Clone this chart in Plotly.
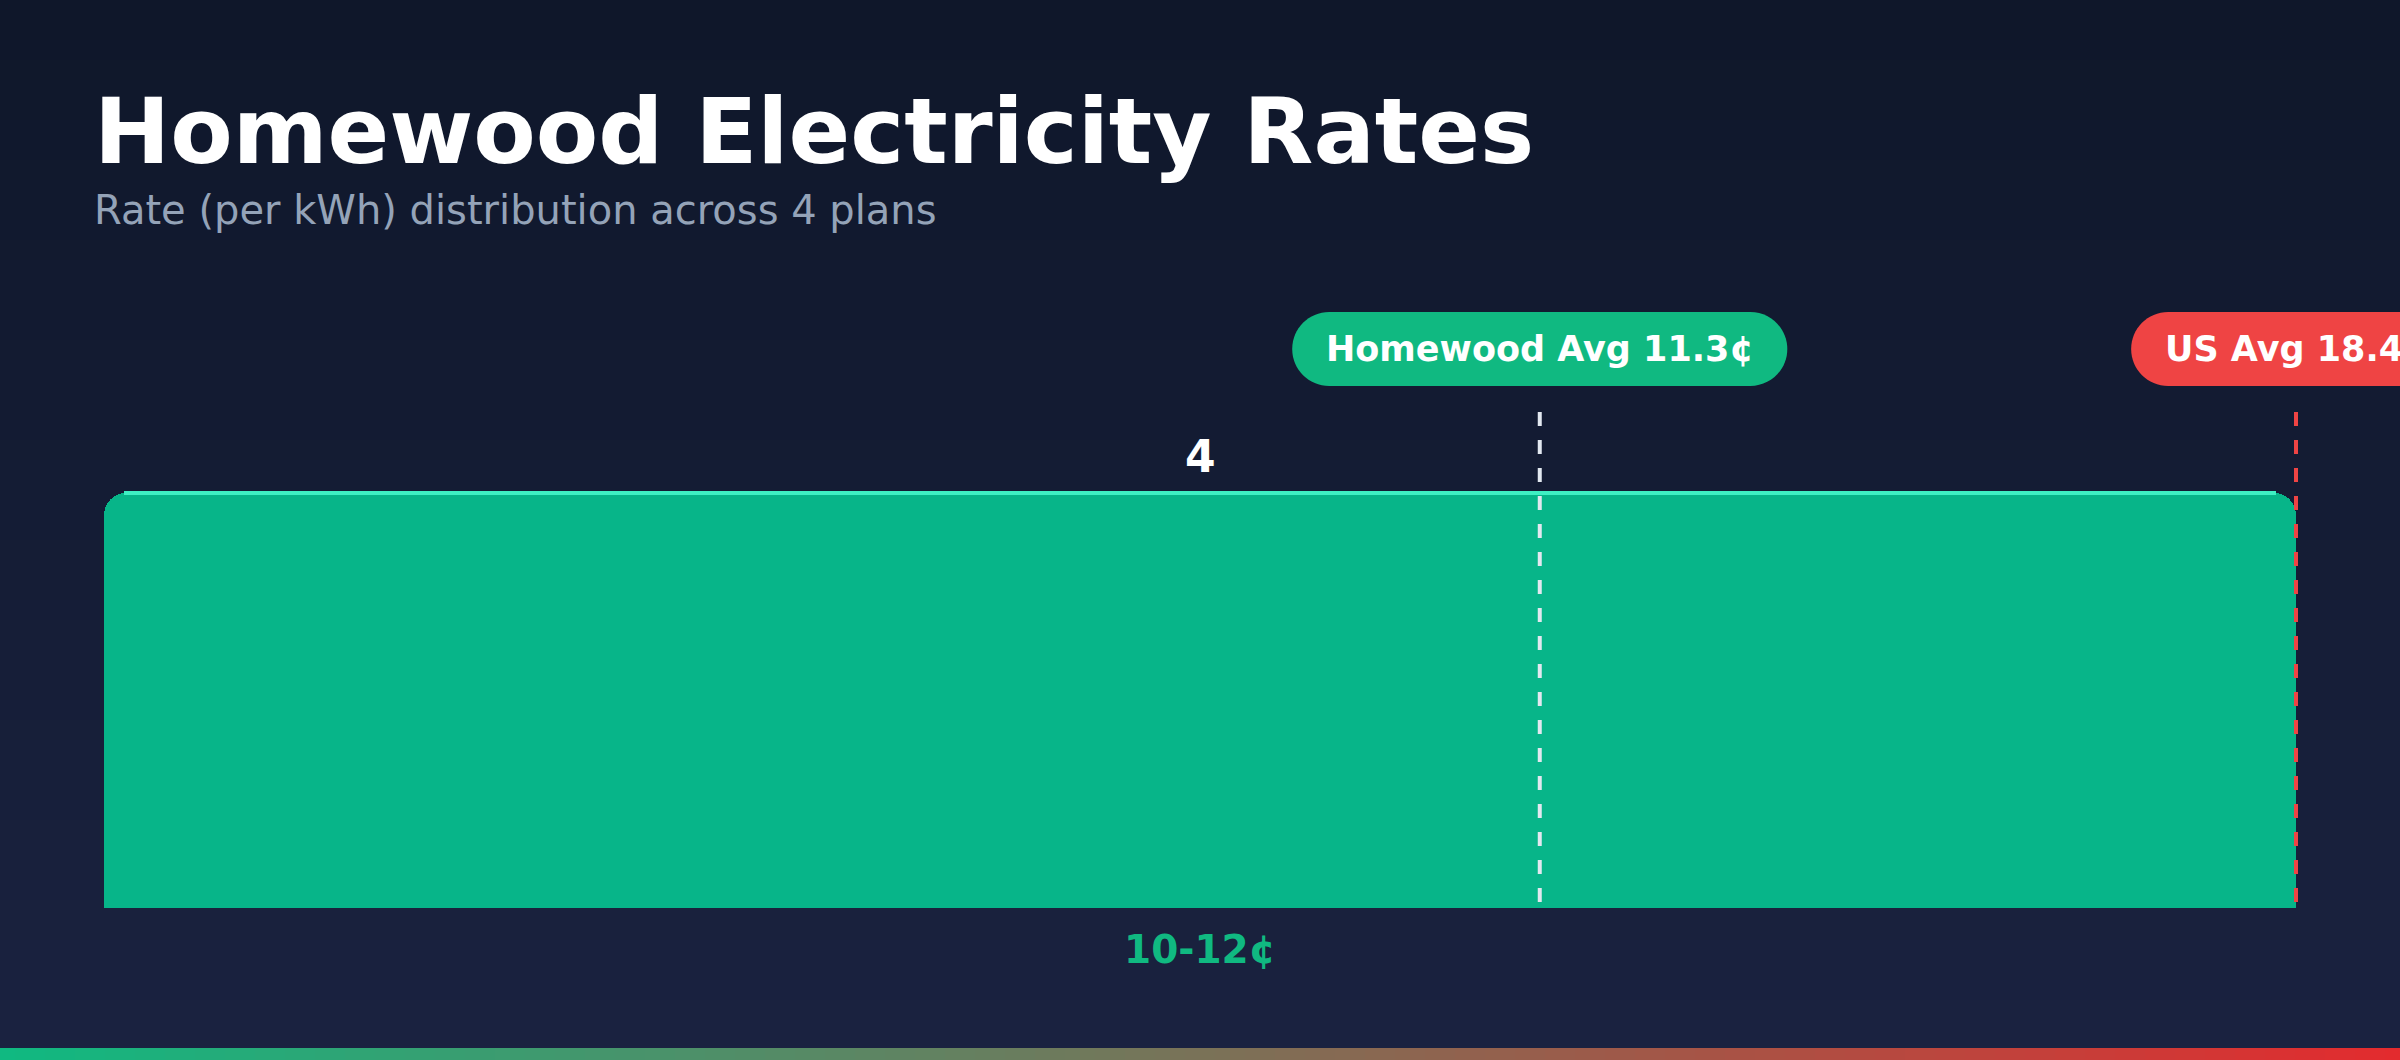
import plotly.graph_objects as go

# --- data ---
bin_labels = ["10-12¢"]
bin_lo = [10]
bin_hi = [12]
plan_counts = [4]
ref_names = ["Homewood Avg", "US Avg"]
ref_values = [11.31, 18.4]
ref_line_colors = ["#e2e8f0", "#ef4444"]
ref_pill_colors = ["#10b981", "#ef4444"]

title = "Homewood Electricity Rates"
subtitle = f"Rate (per kWh) distribution across {sum(plan_counts)} plans"

# --- layout constants (pixels) ---
W, H = 2400, 1060
BAR_L, BAR_R = 104, 2296
BASE_PX, TOP_PX = 908, 493
FONT = "DejaVu Sans"

x_lo, x_hi = bin_lo[0], bin_hi[-1]
xppu = (BAR_R - BAR_L) / (x_hi - x_lo)
yppu = (BASE_PX - TOP_PX) / max(plan_counts)


def to_x(px):
    return x_lo + (px - BAR_L) / xppu


def to_y(py):
    return (BASE_PX - py) / yppu


def hex_rgb(h):
    h = h.lstrip("#")
    return [int(h[i:i + 2], 16) for i in (0, 2, 4)]


def mix(c1, c2, t):
    a, b = hex_rgb(c1), hex_rgb(c2)
    return "rgb(%d,%d,%d)" % tuple(round(a[i] + (b[i] - a[i]) * t) for i in range(3))


# rough DejaVu Sans Bold advance widths (em) to size the pills
BOLD_W = {"H": .838, "o": .687, "m": 1.042, "e": .678, "w": .924, "d": .716, " ": .348,
          "A": .774, "v": .652, "g": .716, ".": .380, "¢": .696, "U": .812, "S": .720}


def text_width(s, size):
    return sum(BOLD_W.get(ch, .696) for ch in s) * size


def pill_path(cx, cy, w, h):
    r = h / 2
    k = 0.5523 * r
    x0, x1 = cx - w / 2 + r, cx + w / 2 - r
    top, bot = cy - r, cy + r
    pts = [
        ("M", [(x0, top)]),
        ("L", [(x1, top)]),
        ("C", [(x1 + k, top), (x1 + r, cy - k), (x1 + r, cy)]),
        ("C", [(x1 + r, cy + k), (x1 + k, bot), (x1, bot)]),
        ("L", [(x0, bot)]),
        ("C", [(x0 - k, bot), (x0 - r, cy + k), (x0 - r, cy)]),
        ("C", [(x0 - r, cy - k), (x0 - k, top), (x0, top)]),
    ]
    out = ""
    for cmd, ps in pts:
        out += cmd + " ".join("%.5f,%.5f" % (to_x(px), to_y(py)) for px, py in ps) + " "
    return out + "Z"


shapes = []

# background gradient
n_bg = 53
for i in range(n_bg):
    shapes.append(dict(type="rect", xref="paper", yref="paper", x0=0, x1=1,
                       y0=1 - (i + 1) / n_bg - 0.002, y1=1 - i / n_bg,
                       fillcolor=mix("#0f172a", "#1a2240", i / (n_bg - 1)),
                       line=dict(width=0), layer="below"))

# bottom accent strip
n_strip = 160
for i in range(n_strip):
    shapes.append(dict(type="rect", xref="paper", yref="paper",
                       x0=i / n_strip, x1=(i + 1) / n_strip + 0.001, y0=0, y1=12 / H,
                       fillcolor=mix("#10b981", "#e32b2e", i / (n_strip - 1)),
                       line=dict(width=0), layer="above"))

centers = [(a + b) / 2 for a, b in zip(bin_lo, bin_hi)]
widths = [b - a for a, b in zip(bin_lo, bin_hi)]

fig = go.Figure()
fig.add_trace(go.Bar(
    x=centers, y=plan_counts, width=widths,
    marker=dict(color="#07b589", cornerradius=22, line=dict(width=0)),
    hoverinfo="skip",
))

annotations = [
    dict(xref="paper", yref="paper", x=92 / W, y=1 - 131 / H, xanchor="left", yanchor="middle",
         text=title, showarrow=False, font=dict(family=FONT, size=91, color="#ffffff", weight=700)),
    dict(xref="paper", yref="paper", x=92 / W, y=1 - 210 / H, xanchor="left", yanchor="middle",
         text=subtitle, showarrow=False, font=dict(family=FONT, size=40, color="#94a3b8")),
]

for lo, hi, c, cnt, lab in zip(bin_lo, bin_hi, centers, plan_counts, bin_labels):
    # light top highlight
    shapes.append(dict(type="line", x0=lo + 20 / xppu, x1=hi - 20 / xppu, y0=cnt, y1=cnt,
                       line=dict(color="#3ef0c3", width=4), layer="above"))
    annotations.append(dict(x=c, y=cnt, yshift=37, text=str(cnt), showarrow=False,
                            yanchor="middle",
                            font=dict(family=FONT, size=44, color="#ffffff", weight=700)))
    annotations.append(dict(x=c, y=0, yshift=-41, text=lab, showarrow=False,
                            yanchor="middle",
                            font=dict(family=FONT, size=39, color="#10b981", weight=700)))

for name, val, lc, pc in zip(ref_names, ref_values, ref_line_colors, ref_pill_colors):
    xv = min(max(val, x_lo), x_hi)
    shapes.append(dict(type="line", x0=xv, x1=xv, y0=to_y(412), y1=to_y(903),
                       line=dict(color=lc, width=4, dash="14px,14px"), layer="above"))
    label = f"{name} {val:.1f}¢"
    cx = BAR_L + (xv - x_lo) * xppu
    pw = text_width(label, 35) + 66
    shapes.append(dict(type="path", path=pill_path(cx, 349, pw, 74),
                       fillcolor=pc, line=dict(width=0), layer="above"))
    annotations.append(dict(x=xv, y=to_y(349), text=label, showarrow=False,
                            yanchor="middle", xanchor="center",
                            font=dict(family=FONT, size=35, color="#ffffff", weight=700)))

fig.update_layout(
    width=W, height=H,
    margin=dict(l=0, r=0, t=0, b=0, pad=0),
    paper_bgcolor="#1a2240",
    plot_bgcolor="rgba(0,0,0,0)",
    showlegend=False,
    hovermode=False,
    bargap=0,
    xaxis=dict(visible=False, range=[to_x(0), to_x(W)], fixedrange=True),
    yaxis=dict(visible=False, range=[to_y(H), to_y(0)], fixedrange=True),
    shapes=shapes,
    annotations=annotations,
)

fig.write_html(
    "out.html",
    config={"displayModeBar": False},
    post_script="document.body.style.margin='0';document.body.style.overflow='hidden';",
)
